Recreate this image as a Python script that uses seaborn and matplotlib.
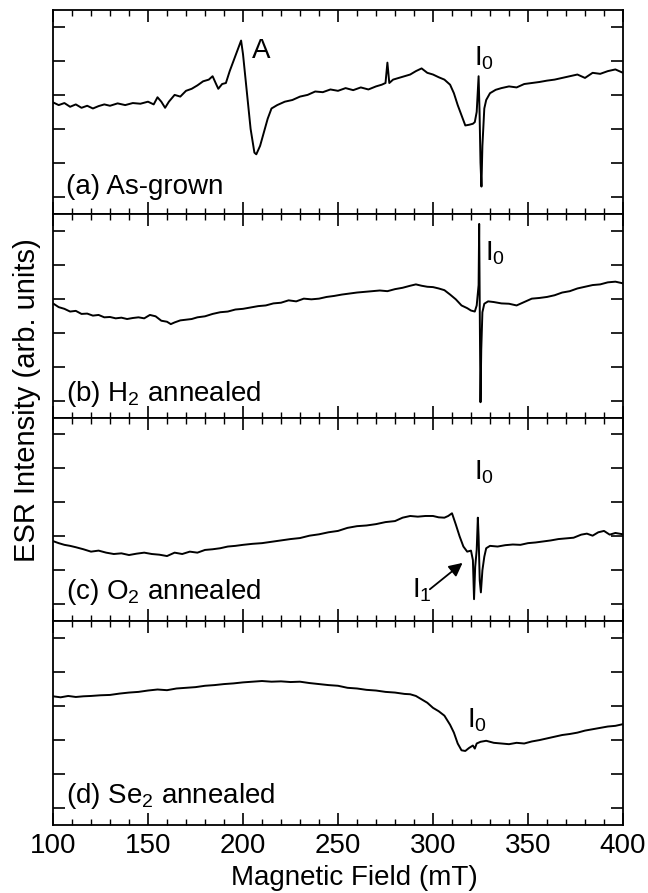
import numpy as np
import pandas as pd
import matplotlib
matplotlib.use("Agg")
import matplotlib.pyplot as plt
from matplotlib.ticker import MultipleLocator
import seaborn as sns

# ---------------- data ----------------
field_a = [100, 103, 106, 109, 112, 115, 118, 121, 124, 127,
           130, 134, 138, 142, 146, 150, 153, 155, 157, 159,
           161, 164, 167, 170, 173, 176, 179, 182, 184, 186,
           187, 189, 191, 193, 195, 197, 199, 200, 202, 204,
           206, 207, 209, 211, 213, 215, 218, 222, 226, 230,
           234, 238, 242, 246, 250, 254, 258, 262, 266, 270,
           273, 275, 276, 277, 279, 282, 285, 288, 291, 294,
           297, 300, 303, 306, 309, 311, 313, 315, 317, 319,
           321, 322, 323, 324, 324.5, 325, 325.5, 326, 327, 328,
           330, 333, 336, 340, 344, 348, 352, 356, 360, 364,
           368, 372, 376, 380, 384, 388, 392, 396, 400]
esr_a = [3.28, 3.2, 3.26, 3.15, 3.22, 3.12, 3.18, 3.1, 3.17, 3.22,
         3.18, 3.25, 3.2, 3.26, 3.24, 3.3, 3.22, 3.43, 3.3, 3.12,
         3.3, 3.5, 3.45, 3.62, 3.68, 3.78, 3.9, 3.95, 4.05, 3.8,
         3.68, 3.82, 3.85, 4.2, 4.5, 4.8, 5.1, 4.7, 3.6, 2.5,
         1.8, 1.75, 2.0, 2.4, 2.8, 3.1, 3.2, 3.3, 3.35, 3.45,
         3.5, 3.6, 3.58, 3.66, 3.62, 3.7, 3.64, 3.72, 3.66, 3.75,
         3.8, 3.85, 4.45, 3.85, 3.95, 4.0, 4.05, 4.1, 4.2, 4.28,
         4.15, 4.1, 4.02, 3.95, 3.8, 3.55, 3.2, 2.9, 2.6, 2.62,
         2.65, 2.7, 3.0, 4.05, 3.0, 1.5, 0.8, 2.0, 3.1, 3.35,
         3.55, 3.65, 3.7, 3.75, 3.72, 3.82, 3.85, 3.88, 3.92, 3.95,
         4.0, 4.05, 4.1, 4.0, 4.15, 4.12, 4.2, 4.25, 4.15]

field_b = [100, 103, 106, 109, 112, 115, 118, 121, 124, 127,
           130, 133, 136, 139, 142, 145, 148, 151, 154, 157,
           160, 162, 164, 167, 170, 173, 176, 180, 184, 188,
           192, 196, 200, 204, 208, 212, 216, 220, 224, 228,
           232, 236, 240, 244, 248, 252, 256, 260, 264, 268,
           272, 276, 280, 284, 288, 291, 294, 297, 300, 303,
           306, 309, 312, 315, 318, 320, 322, 323, 324, 324.3,
           324.7, 325, 325.4, 326, 327, 329, 332, 336, 340, 344,
           348, 352, 356, 360, 364, 368, 372, 376, 380, 384,
           388, 392, 396, 400]
esr_b = [3.36, 3.25, 3.2, 3.12, 3.14, 3.05, 3.06, 3.0, 3.02, 2.95,
         2.96, 2.92, 2.94, 2.9, 2.93, 2.95, 2.92, 3.02, 2.98, 2.85,
         2.82, 2.75, 2.8, 2.86, 2.88, 2.9, 2.95, 2.98, 3.05, 3.1,
         3.12, 3.18, 3.2, 3.24, 3.28, 3.3, 3.36, 3.38, 3.45, 3.42,
         3.5, 3.48, 3.5, 3.55, 3.58, 3.62, 3.65, 3.68, 3.7, 3.72,
         3.74, 3.72, 3.78, 3.82, 3.88, 3.92, 3.88, 3.85, 3.84, 3.8,
         3.75, 3.62, 3.48, 3.3, 3.22, 3.15, 3.12, 3.3, 3.9, 5.7,
         2.5, 0.45, 2.0, 3.1, 3.35, 3.42, 3.4, 3.36, 3.35, 3.3,
         3.4, 3.5, 3.52, 3.55, 3.6, 3.68, 3.72, 3.8, 3.85, 3.9,
         3.92, 3.98, 4.0, 3.95]

field_c = [100, 103, 106, 109, 112, 116, 120, 124, 128, 132,
           136, 140, 144, 148, 152, 156, 160, 164, 168, 172,
           176, 180, 184, 188, 192, 196, 200, 205, 210, 215,
           220, 225, 230, 235, 240, 245, 250, 255, 260, 265,
           270, 275, 280, 284, 288, 292, 296, 300, 303, 306,
           308, 310, 312, 314, 316, 318, 320, 321, 321.6, 322.2,
           323, 323.6, 324, 324.6, 325.2, 326, 327, 328, 330, 334,
           338, 342, 346, 350, 354, 358, 362, 366, 370, 374,
           378, 381, 384, 387, 390, 393, 396, 400]
esr_c = [2.36, 2.3, 2.25, 2.22, 2.18, 2.12, 2.05, 2.08, 2.02, 1.98,
         2.0, 1.95, 1.99, 2.02, 1.98, 1.96, 1.92, 2.02, 1.98, 2.05,
         2.02, 2.1, 2.12, 2.15, 2.2, 2.22, 2.25, 2.28, 2.3, 2.34,
         2.38, 2.42, 2.45, 2.52, 2.56, 2.62, 2.66, 2.75, 2.8, 2.82,
         2.86, 2.92, 2.95, 3.05, 3.1, 3.08, 3.1, 3.1, 3.06, 3.05,
         3.1, 3.18, 2.85, 2.5, 2.2, 2.05, 2.08, 1.8, 0.65, 1.6,
         2.1, 3.05, 2.5, 1.2, 0.85, 1.5, 1.9, 2.15, 2.22, 2.2,
         2.24, 2.26, 2.25, 2.3, 2.32, 2.35, 2.38, 2.42, 2.44, 2.46,
         2.55, 2.58, 2.52, 2.62, 2.66, 2.55, 2.6, 2.56]

field_d = [100, 104, 108, 112, 116, 120, 125, 130, 135, 140,
           145, 150, 155, 160, 165, 170, 175, 180, 185, 190,
           195, 200, 205, 210, 215, 220, 225, 230, 235, 240,
           245, 250, 255, 260, 265, 270, 275, 280, 285, 288,
           291, 294, 297, 300, 303, 306, 309, 311, 313, 315,
           317, 319, 321, 322, 323, 325, 328, 332, 336, 340,
           344, 348, 352, 356, 360, 364, 368, 372, 376, 380,
           384, 388, 392, 396, 400]
esr_d = [3.79, 3.76, 3.8, 3.77, 3.79, 3.8, 3.82, 3.83, 3.87, 3.9,
         3.92, 3.96, 3.99, 3.97, 4.02, 4.04, 4.06, 4.1, 4.12, 4.15,
         4.17, 4.2, 4.22, 4.24, 4.22, 4.23, 4.21, 4.22, 4.18, 4.15,
         4.12, 4.1, 4.04, 4.02, 3.98, 3.96, 3.92, 3.9, 3.86, 3.85,
         3.8, 3.7, 3.6, 3.45, 3.35, 3.22, 2.95, 2.72, 2.4, 2.2,
         2.18, 2.27, 2.34, 2.25, 2.4, 2.45, 2.48, 2.42, 2.4, 2.38,
         2.42, 2.4, 2.46, 2.5, 2.55, 2.6, 2.65, 2.68, 2.72, 2.78,
         2.82, 2.86, 2.9, 2.92, 2.97]

panel_labels = ["(a) As-grown", "(b) H$_2$ annealed",
                "(c) O$_2$ annealed", "(d) Se$_2$ annealed"]
xticks = [100, 150, 200, 250, 300, 350, 400]

# ---------------- style ----------------
sns.set_style("ticks")
plt.rcParams['font.family'] = ['Liberation Sans', 'DejaVu Sans']
plt.rcParams['mathtext.fontset'] = 'custom'
plt.rcParams['mathtext.rm'] = 'Liberation Sans'
plt.rcParams['mathtext.it'] = 'Liberation Sans'
plt.rcParams['mathtext.default'] = 'regular'
plt.rcParams['text.color'] = 'black'
plt.rcParams['axes.labelcolor'] = 'black'
plt.rcParams['xtick.color'] = 'black'
plt.rcParams['ytick.color'] = 'black'
plt.rcParams['axes.edgecolor'] = 'black'

fig, axes = plt.subplots(4, 1, figsize=(6.48, 8.93), dpi=100, sharex=True)
fig.subplots_adjust(left=53/648, right=623/648, top=1-10/893,
                    bottom=1-825/893, hspace=0)

series = [(field_a, esr_a), (field_b, esr_b), (field_c, esr_c), (field_d, esr_d)]
label_y = [0.59, 0.48, 0.65, 0.64]

for ax, (fx, fy), lab, ly in zip(axes, series, panel_labels, label_y):
    df = pd.DataFrame({"field": fx, "esr": fy})
    sns.lineplot(data=df, x="field", y="esr", ax=ax, color="black",
                 linewidth=1.4, estimator=None, sort=False)
    ax.set_xlim(100, 400)
    ax.set_ylim(0, 6)
    ax.set_yticks([0.5, 1.5, 2.5, 3.5, 4.5, 5.5])
    ax.set_yticklabels([])
    ax.set_xticks(xticks)
    ax.xaxis.set_minor_locator(MultipleLocator(10))
    ax.set_xlabel("")
    ax.set_ylabel("")
    ax.tick_params(axis="both", which="major", direction="in", length=8.5,
                   width=1.2, top=True, right=True, color="black",
                   labelcolor="black")
    ax.tick_params(axis="x", which="minor", direction="in", length=4.5,
                   width=1.0, top=True, bottom=True, color="black")
    ax.tick_params(axis="y", which="minor", left=False, right=False)
    for sp in ax.spines.values():
        sp.set_linewidth(1.3)
        sp.set_color("black")
        sp.set_visible(True)
    ax.text(107, ly, lab, fontsize=20, ha="left", va="baseline", color="black")

axes[-1].set_xticklabels([str(t) for t in xticks])
axes[-1].tick_params(axis="x", which="major", labelsize=20, pad=6)

# annotations
axes[0].text(209.5, 4.6, "A", fontsize=20, ha="center", va="baseline")
axes[0].text(321.5, 4.36, "I$_0$", fontsize=20, ha="left", va="baseline")
axes[1].text(327.5, 4.62, "I$_0$", fontsize=20, ha="left", va="baseline")
axes[2].text(321.5, 4.18, "I$_0$", fontsize=20, ha="left", va="baseline")
axes[2].text(289.0, 0.70, "I$_1$", fontsize=20, ha="left", va="baseline")
axes[2].annotate("", xy=(316.7, 1.77), xytext=(297.2, 0.89),
                 arrowprops=dict(arrowstyle="-|>", color="black", lw=1.3,
                                 mutation_scale=20))
axes[3].text(317.8, 2.86, "I$_0$", fontsize=20, ha="left", va="baseline")

fig.text(354/648, 1-878/893, "Magnetic Field (mT)", fontsize=20,
         ha="center", va="center", color="black")
fig.text(27/648, 1-400/893, "ESR Intensity (arb. units)", fontsize=21,
         ha="center", va="center", rotation=90, color="black")

fig.savefig("out.png", dpi=100)
